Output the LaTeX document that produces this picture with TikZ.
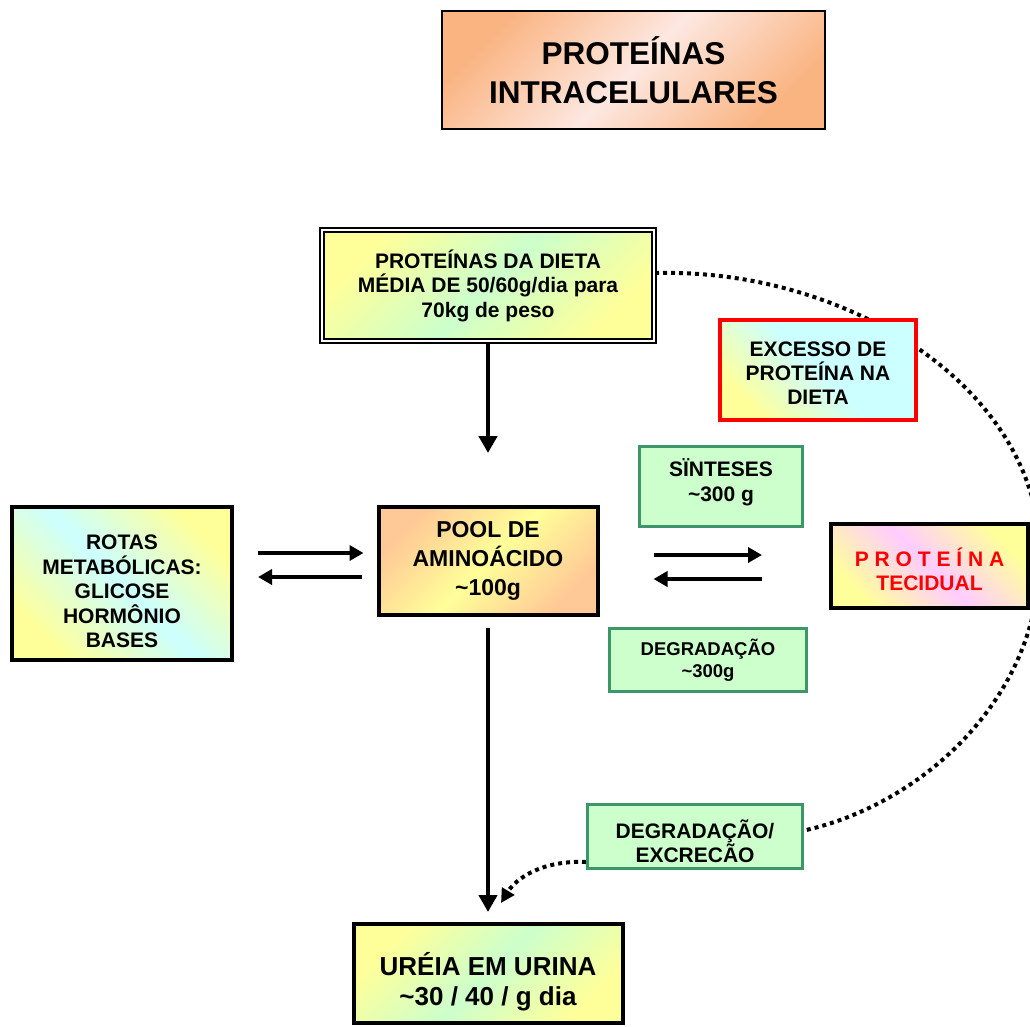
\documentclass[tikz,border=0pt]{standalone}
\usepackage{fontspec}
\setmainfont{Liberation Sans}
\usetikzlibrary{arrows.meta,backgrounds,calc}
\definecolor{peach}{RGB}{250,180,130}
\definecolor{pale}{RGB}{253,232,225}
\definecolor{yel}{RGB}{255,255,153}
\definecolor{lgreen}{RGB}{204,255,204}
\definecolor{lcyan}{RGB}{204,255,255}
\definecolor{lpink}{RGB}{255,204,255}
\definecolor{orng}{RGB}{255,200,150}
\definecolor{boxgreen}{RGB}{60,150,105}
\begin{document}
\begin{tikzpicture}[x=1pt,y=-1pt,
  box/.style={draw,line width=4pt,align=center,inner sep=0pt},
  gbox/.style={draw=boxgreen,line width=3pt,fill=lgreen,align=center,inner sep=0pt},
  fs/.style 2 args={font=\fontsize{#1}{#2}\selectfont\bfseries},
  grad/.style n args={4}{left color=#1,right color=#3,middle color=#2,shading angle=#4},
  arr/.style={line width=4.5pt,-{Triangle[length=17pt,width=18pt]}},
  harr/.style={line width=4pt,-{Triangle[length=14pt,width=15pt]}},
  dots/.style={line width=4pt,dash pattern=on 4pt off 4pt}]
\useasboundingbox (0,0) rectangle (1030,1026);
\node[box,line width=2pt,minimum width=383pt,minimum height=118pt,grad={peach}{pale}{peach}{45},fs={31.5}{39}] (titulo) at (633.5,70) {PROTEÍNAS\\INTRACELULARES};
\node[box,line width=2pt,double,double distance=2pt,minimum width=332pt,minimum height=111pt,grad={yel}{lgreen}{yel}{45},fs={21}{24.5}] (dieta) at (488,285.5) {PROTEÍNAS DA DIETA\\MÉDIA DE 50/60g/dia para\\70kg de peso};
\node[box,draw=red,minimum width=196pt,minimum height=100pt,grad={yel}{lcyan}{lcyan}{135},fs={21}{24}] (excesso) at (818,370) {\rule{0pt}{21pt}EXCESSO DE\\PROTEÍNA NA\\DIETA};
\node[gbox,minimum width=163pt,minimum height=80pt,fs={21}{25}] (sinteses) at (721,486.5) {SÏNTESES\\\textasciitilde300 g\rule[-12pt]{0pt}{0pt}};
\node[box,minimum width=219pt,minimum height=108pt,grad={orng}{yel}{orng}{45},fs={23}{29}] (pool) at (488,561) {POOL DE\\AMINOÁCIDO\\\textasciitilde100g};
\node[box,minimum width=220pt,minimum height=153pt,grad={yel}{lcyan}{yel}{135},fs={21}{24.5}] (rotas) at (122,583.5) {\rule{0pt}{31pt}ROTAS\\METABÓLICAS:\\GLICOSE\\HORMÔNIO\\BASES};
\node[box,minimum width=197pt,minimum height=84pt,grad={yel}{lpink}{yel}{135},text=red,fs={21}{24}] (tecidual) at (929.5,566) {\rule{0pt}{25pt}P R O T E Í N A\\TECIDUAL};
\node[gbox,minimum width=197pt,minimum height=63pt,fs={18.5}{22}] (degradacao) at (708,660) {DEGRADAÇÃO\\\textasciitilde300g};
\node[gbox,minimum width=215pt,minimum height=64pt,fs={21}{23}] (excrecao) at (695,836.5) {\rule{0pt}{28pt}DEGRADAÇÃO/\\EXCRECÃO};
\node[box,minimum width=269pt,minimum height=99pt,grad={yel}{lgreen}{yel}{45},fs={26}{30}] (ureia) at (488,973.5) {\rule{0pt}{40pt}URÉIA EM URINA\\\textasciitilde30 / 40 / g dia};
\draw[arr,shorten >=52pt] (dieta.south) -- (pool.north);
\draw[arr,shorten <=11pt,shorten >=10pt] (pool.south) -- (ureia.north);
\draw[harr] ($(rotas.east |- pool)+(24,-8)$) -- ($(pool.west)+(-13,-8)$);
\draw[harr] ($(pool.west)+(-15,16)$) -- ($(rotas.east |- pool)+(24,16)$);
\draw[harr] ($(pool.east)+(54,-6)$) -- ($(tecidual.west |- pool)+(-67,-6)$);
\draw[harr] ($(tecidual.west |- pool)+(-67,18)$) -- ($(pool.east)+(54,18)$);
\begin{scope}[on background layer]
\draw[dots] ($(dieta.east)+(0,-12.5)$) .. controls (850,268) and (1040,390) .. (1040,555) .. controls (1040,700) and (920,805) .. ($(excrecao.east)+(0,-6)$);
\draw[dots,-{Triangle[length=14pt,width=14pt]}] ($(excrecao.west)+(0,25.5)$) .. controls (540,860) and (515,880) .. ($(ureia.north)+(13,-19)$);
\end{scope}
\end{tikzpicture}
\end{document}
